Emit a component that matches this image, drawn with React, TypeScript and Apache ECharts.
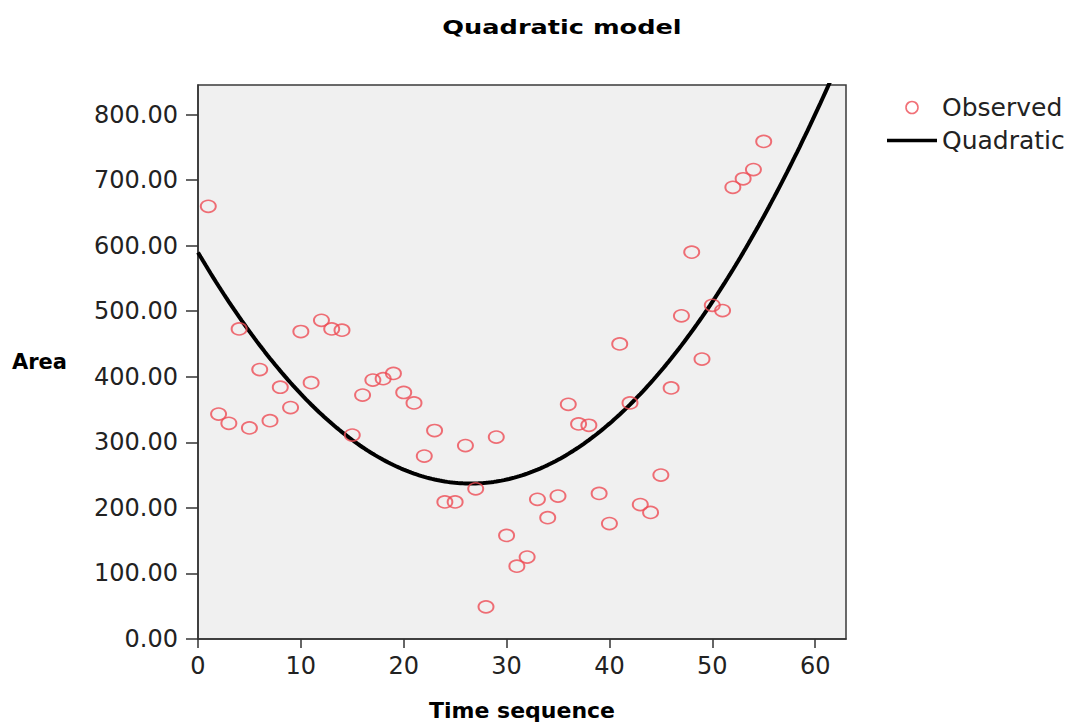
import React, { useEffect, useRef } from "react";
import * as echarts from "echarts";

const timeSequence = [
  1, 2, 3, 4, 5, 6, 7, 8, 9, 10, 11, 12, 13, 14, 15, 16, 17, 18, 19, 20,
  21, 22, 23, 24, 25, 26, 27, 28, 29, 30, 31, 32, 33, 34, 35, 36, 37, 38, 39, 40,
  41, 42, 43, 44, 45, 46, 47, 48, 49, 50, 51, 52, 53, 54, 55,
];

const observedArea = [
  660, 343, 329, 473, 322, 411, 333, 384, 353, 469, 391, 486, 473, 471, 311,
  372, 395, 397, 405, 376, 360, 279, 318, 209, 209, 295, 229, 49, 308, 158,
  111, 125, 213, 185, 218, 358, 328, 326, 222, 176, 450, 360, 205, 193, 250,
  383, 493, 590, 427, 509, 501, 689, 702, 716, 759,
];

const xTickValues = [0, 10, 20, 30, 40, 50, 60];
const yTickValues = [0, 100, 200, 300, 400, 500, 600, 700, 800];
const xAxisMax = 63;
const yAxisMax = 845;

// least-squares quadratic model fitted to the observed data
function fitQuadratic(xs: number[], ys: number[]) {
  const s = [0, 0, 0, 0, 0];
  const t = [0, 0, 0];
  for (let i = 0; i < xs.length; i++) {
    const x = xs[i];
    const y = ys[i];
    let p = 1;
    for (let k = 0; k < 5; k++) {
      s[k] += p;
      if (k < 3) t[k] += p * y;
      p *= x;
    }
  }
  const m = [
    [s[0], s[1], s[2], t[0]],
    [s[1], s[2], s[3], t[1]],
    [s[2], s[3], s[4], t[2]],
  ];
  for (let c = 0; c < 3; c++) {
    for (let r = c + 1; r < 3; r++) {
      const f = m[r][c] / m[c][c];
      for (let k = c; k < 4; k++) m[r][k] -= f * m[c][k];
    }
  }
  const coef = [0, 0, 0];
  for (let r = 2; r >= 0; r--) {
    let v = m[r][3];
    for (let k = r + 1; k < 3; k++) v -= m[r][k] * coef[k];
    coef[r] = v / m[r][r];
  }
  return coef;
}

export default function App() {
  const ref = useRef<HTMLDivElement>(null);

  useEffect(() => {
    if (!ref.current) return;
    const chart = echarts.init(ref.current, undefined, { renderer: "svg" });

    const [c0, c1, c2] = fitQuadratic(timeSequence, observedArea);
    const curve: number[][] = [];
    for (let i = 0; i <= xAxisMax * 4; i++) {
      const x = i / 4;
      curve.push([x, c0 + c1 * x + c2 * x * x]);
    }

    const scatterData = timeSequence.map((t, i) => [t, observedArea[i]]);

    const labelFont = "DejaVu Sans";
    const markerRed = "#ee4c55";

    chart.setOption({
      animation: false,
      backgroundColor: "#ffffff",
      graphic: [
        {
          type: "text",
          x: 562,
          y: 27,
          scaleX: 1.28,
          style: {
            text: "Quadratic model",
            x: 0,
            y: 0,
            align: "center",
            verticalAlign: "middle",
            fontFamily: labelFont,
            fontWeight: "bold",
            fontSize: 20,
            fill: "#000000",
          },
        },
      ],
      legend: {
        orient: "vertical",
        left: 882,
        top: 90,
        itemWidth: 50,
        itemHeight: 12,
        itemGap: 8,
        textStyle: {
          fontFamily: labelFont,
          fontSize: 25,
          color: "#222222",
        },
        data: [
          {
            name: "Observed",
            icon: "circle",
            itemStyle: { color: "transparent", borderColor: markerRed, borderWidth: 1.6 },
          },
          {
            name: "Quadratic",
            icon: "path://M0,0L50,0L50,3.6L0,3.6Z",
            itemStyle: { color: "#000000", borderWidth: 0 },
          },
        ],
      },
      grid: {
        left: 198,
        right: 233,
        top: 85,
        bottom: 85,
        show: true,
        backgroundColor: "#f0f0f0",
        borderColor: "#3a3a3a",
        borderWidth: 1.5,
      },
      xAxis: {
        type: "value",
        min: 0,
        max: xAxisMax,
        name: "Time sequence",
        nameLocation: "middle",
        nameGap: 71,
        nameTextStyle: {
          fontFamily: labelFont,
          fontWeight: "bold",
          fontSize: 22,
          color: "#000000",
          verticalAlign: "middle",
        },
        splitLine: { show: false },
        axisLine: { show: true, lineStyle: { color: "#333333", width: 1.5 } },
        axisTick: {
          show: true,
          length: 9,
          lineStyle: { color: "#333333", width: 1.5 },
          customValues: xTickValues,
        },
        axisLabel: {
          margin: 15,
          fontFamily: labelFont,
          fontSize: 24,
          color: "#222222",
          customValues: xTickValues,
        },
      },
      yAxis: {
        type: "value",
        min: 0,
        max: yAxisMax,
        name: "Area",
        nameLocation: "middle",
        nameRotate: 0,
        nameGap: 186,
        nameTextStyle: {
          fontFamily: labelFont,
          fontWeight: "bold",
          fontSize: 21,
          color: "#000000",
          align: "left",
          verticalAlign: "middle",
        },
        splitLine: { show: false },
        axisLine: { show: true, lineStyle: { color: "#333333", width: 1.5 } },
        axisTick: {
          show: true,
          length: 12,
          lineStyle: { color: "#333333", width: 1.5 },
          customValues: yTickValues,
        },
        axisLabel: {
          margin: 20,
          fontFamily: labelFont,
          fontSize: 24,
          color: "#222222",
          customValues: yTickValues,
          formatter: (v: number) => v.toFixed(2),
        },
      },
      series: [
        {
          name: "Observed",
          type: "scatter",
          symbol: "circle",
          symbolSize: [15, 12],
          data: scatterData,
          itemStyle: { color: "transparent", borderColor: markerRed, borderWidth: 1.8 },
          z: 3,
        },
        {
          name: "Quadratic",
          type: "line",
          data: curve,
          symbol: "none",
          showSymbol: false,
          smooth: false,
          clip: true,
          lineStyle: { color: "#000000", width: 4 },
          itemStyle: { color: "#000000" },
          z: 2,
        },
      ],
    });

    return () => chart.dispose();
  }, []);

  return (
    <div
      ref={ref}
      style={{ position: "absolute", left: 0, top: 0, width: 1079, height: 726 }}
    />
  );
}
